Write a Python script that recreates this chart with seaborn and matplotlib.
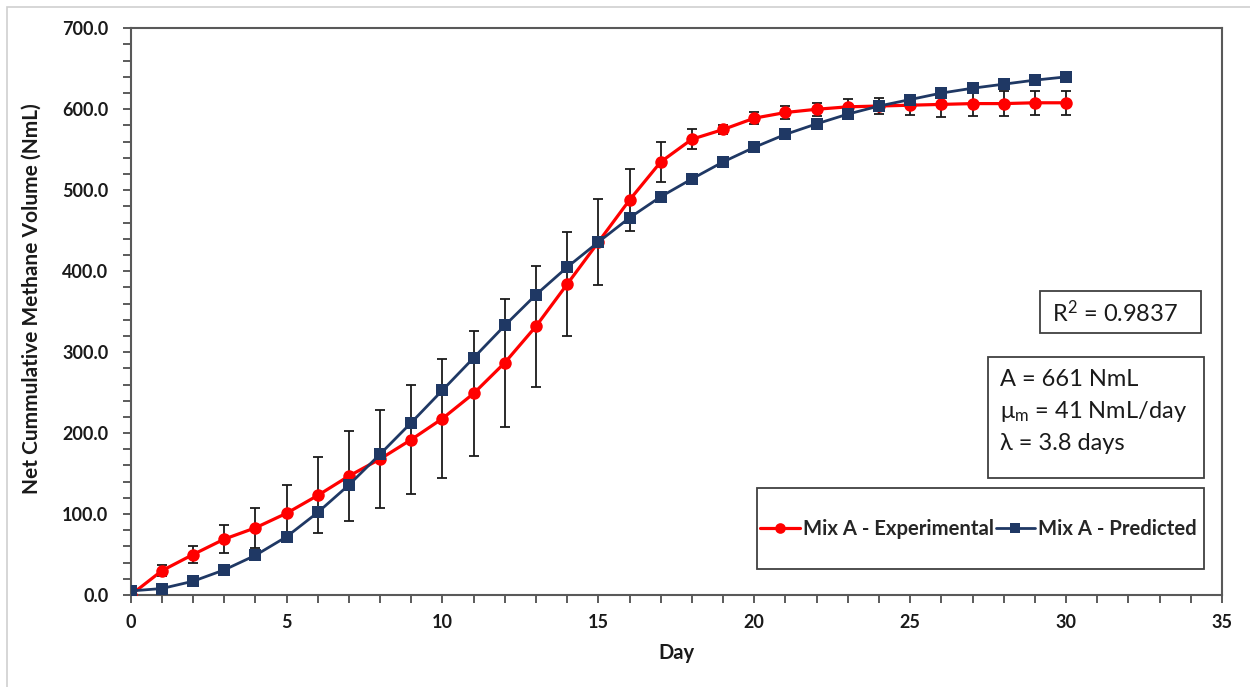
import matplotlib
matplotlib.use("Agg")
import numpy as np
import pandas as pd
import seaborn as sns
import matplotlib.pyplot as plt
from matplotlib.patches import Rectangle
from matplotlib.ticker import MultipleLocator, FormatStrFormatter

# Cumulative methane production, Mix A
days = list(range(31))
experimental = [0, 30, 50, 69, 83, 101, 123, 147, 168, 192, 218, 249, 287, 332, 384,
                436, 488, 535, 563, 575, 589, 596, 600, 603, 604, 605, 606, 607, 607, 608, 608]
experimental_err = [0, 7, 11, 17, 25, 35, 47, 55, 61, 67, 74, 77, 79, 75, 64,
                    53, 38, 25, 12, 6, 7, 8, 8, 10, 10, 12, 15, 15, 15, 15, 15]
predicted = [5, 8, 17, 31, 49, 72, 102, 136, 174, 213, 253, 293, 333, 371, 405,
             436, 466, 492, 514, 535, 553, 569, 582, 594, 604, 612, 620, 626, 631, 636, 640]

series_labels = ["Mix A - Experimental", "Mix A - Predicted"]
r2_text = "R$^{\\mathregular{2}}$ = 0.9837"
param_lines = ["A = 661 NmL", "$\\mathregular{\\mu_m}$ = 41 NmL/day", "λ = 3.8 days"]

df = pd.DataFrame({"Day": days, "Experimental": experimental,
                   "Err": experimental_err, "Predicted": predicted})

sns.set_style("ticks")
plt.rcParams["font.family"] = ["Lato", "DejaVu Sans"]
plt.rcParams["mathtext.fontset"] = "custom"
plt.rcParams["mathtext.rm"] = "Lato"
plt.rcParams["mathtext.it"] = "Lato"
plt.rcParams["mathtext.bf"] = "Lato:bold"

W, H = 1250, 687
fig = plt.figure(figsize=(W / 100, H / 100), dpi=100)

def fx(px):
    return px / W

def fy(py):
    return 1 - py / H

left, right, top, bottom = 130.7, 1222, 28.3, 595
ax = fig.add_axes([fx(left), fy(bottom), fx(right - left), (bottom - top) / H])

red = "#FF0000"
navy = "#1F3864"
ink = "#1a1a1a"

ax.errorbar(df["Day"], df["Experimental"], yerr=df["Err"], fmt="none",
            ecolor=ink, elinewidth=1.3, capsize=3.6, capthick=1.3, zorder=2)
sns.lineplot(data=df, x="Day", y="Experimental", ax=ax, color=red, marker="o",
             markersize=9, markeredgewidth=0, linewidth=2.3, zorder=3,
             label=series_labels[0])
sns.lineplot(data=df, x="Day", y="Predicted", ax=ax, color=navy, marker="s",
             markersize=9.3, markeredgewidth=0, linewidth=2.0, zorder=4,
             label=series_labels[1])

ax.set_xlim(0, 35)
ax.set_ylim(0, 700)
ax.xaxis.set_major_locator(MultipleLocator(5))
ax.xaxis.set_minor_locator(MultipleLocator(1))
ax.yaxis.set_major_locator(MultipleLocator(100))
ax.yaxis.set_minor_locator(MultipleLocator(20))
ax.yaxis.set_major_formatter(FormatStrFormatter("%.1f"))
ax.tick_params(which="both", direction="out", length=6, width=1.2, color="#404040")
ax.tick_params(axis="x", which="major", pad=8, labelsize=13)
ax.tick_params(axis="y", which="major", pad=10, labelsize=13)
for lab in ax.get_xticklabels() + ax.get_yticklabels():
    lab.set_fontweight("bold")
    lab.set_color(ink)
for sp in ax.spines.values():
    sp.set_color("#595959")
    sp.set_linewidth(1.5)

ax.set_xlabel("Day", fontsize=14.5, fontweight="bold", color=ink)
ax.set_ylabel("Net Cummulative Methane Volume (NmL)", fontsize=15,
              fontweight="bold", color=ink)
ax.xaxis.set_label_coords(0.5, -0.085)
ax.yaxis.set_label_coords((42 - left) / (right - left), (bottom - 299) / (bottom - top))

# Framed boxes drawn in figure coordinates on top of the plot area
box_kw = dict(transform=fig.transFigure, facecolor="white", edgecolor="#404040",
              linewidth=1.3, zorder=5, clip_on=False)

# Legend box
ax.add_patch(Rectangle((fx(757), fy(569)), fx(1204 - 757), (569 - 488) / H, **box_kw))
handles, labels = ax.get_legend_handles_labels()
leg = ax.legend(handles, labels, ncol=2, frameon=False, loc="center left",
                bbox_to_anchor=(fx(760), fy(529)), bbox_transform=fig.transFigure,
                prop=dict(weight="bold", size=14.6), handlelength=1.95,
                handletextpad=0.15, columnspacing=0.1, borderaxespad=0,
                borderpad=0, markerscale=0.85)
leg.set_zorder(6)

# Fit statistics and Gompertz parameters
ax.add_patch(Rectangle((fx(1040), fy(333)), fx(1201 - 1040), (333 - 291) / H, **box_kw))
ax.text(fx(1052), fy(313), r2_text, ha="left", va="center", fontsize=17,
        color=ink, zorder=7, transform=fig.transFigure)
ax.add_patch(Rectangle((fx(988), fy(478)), fx(1204 - 988), (478 - 357) / H, **box_kw))
for py, line in zip([380, 412, 443], param_lines):
    ax.text(fx(1000), fy(py), line, ha="left", va="center", fontsize=17,
            color=ink, zorder=7, transform=fig.transFigure)

# Outer chart border
fig.add_artist(Rectangle((fx(7), -0.05), 1.2, fy(7) + 0.05, transform=fig.transFigure,
                         facecolor="none", edgecolor="#cfcfcf", linewidth=1.2))

fig.savefig("out.png", dpi=100)
